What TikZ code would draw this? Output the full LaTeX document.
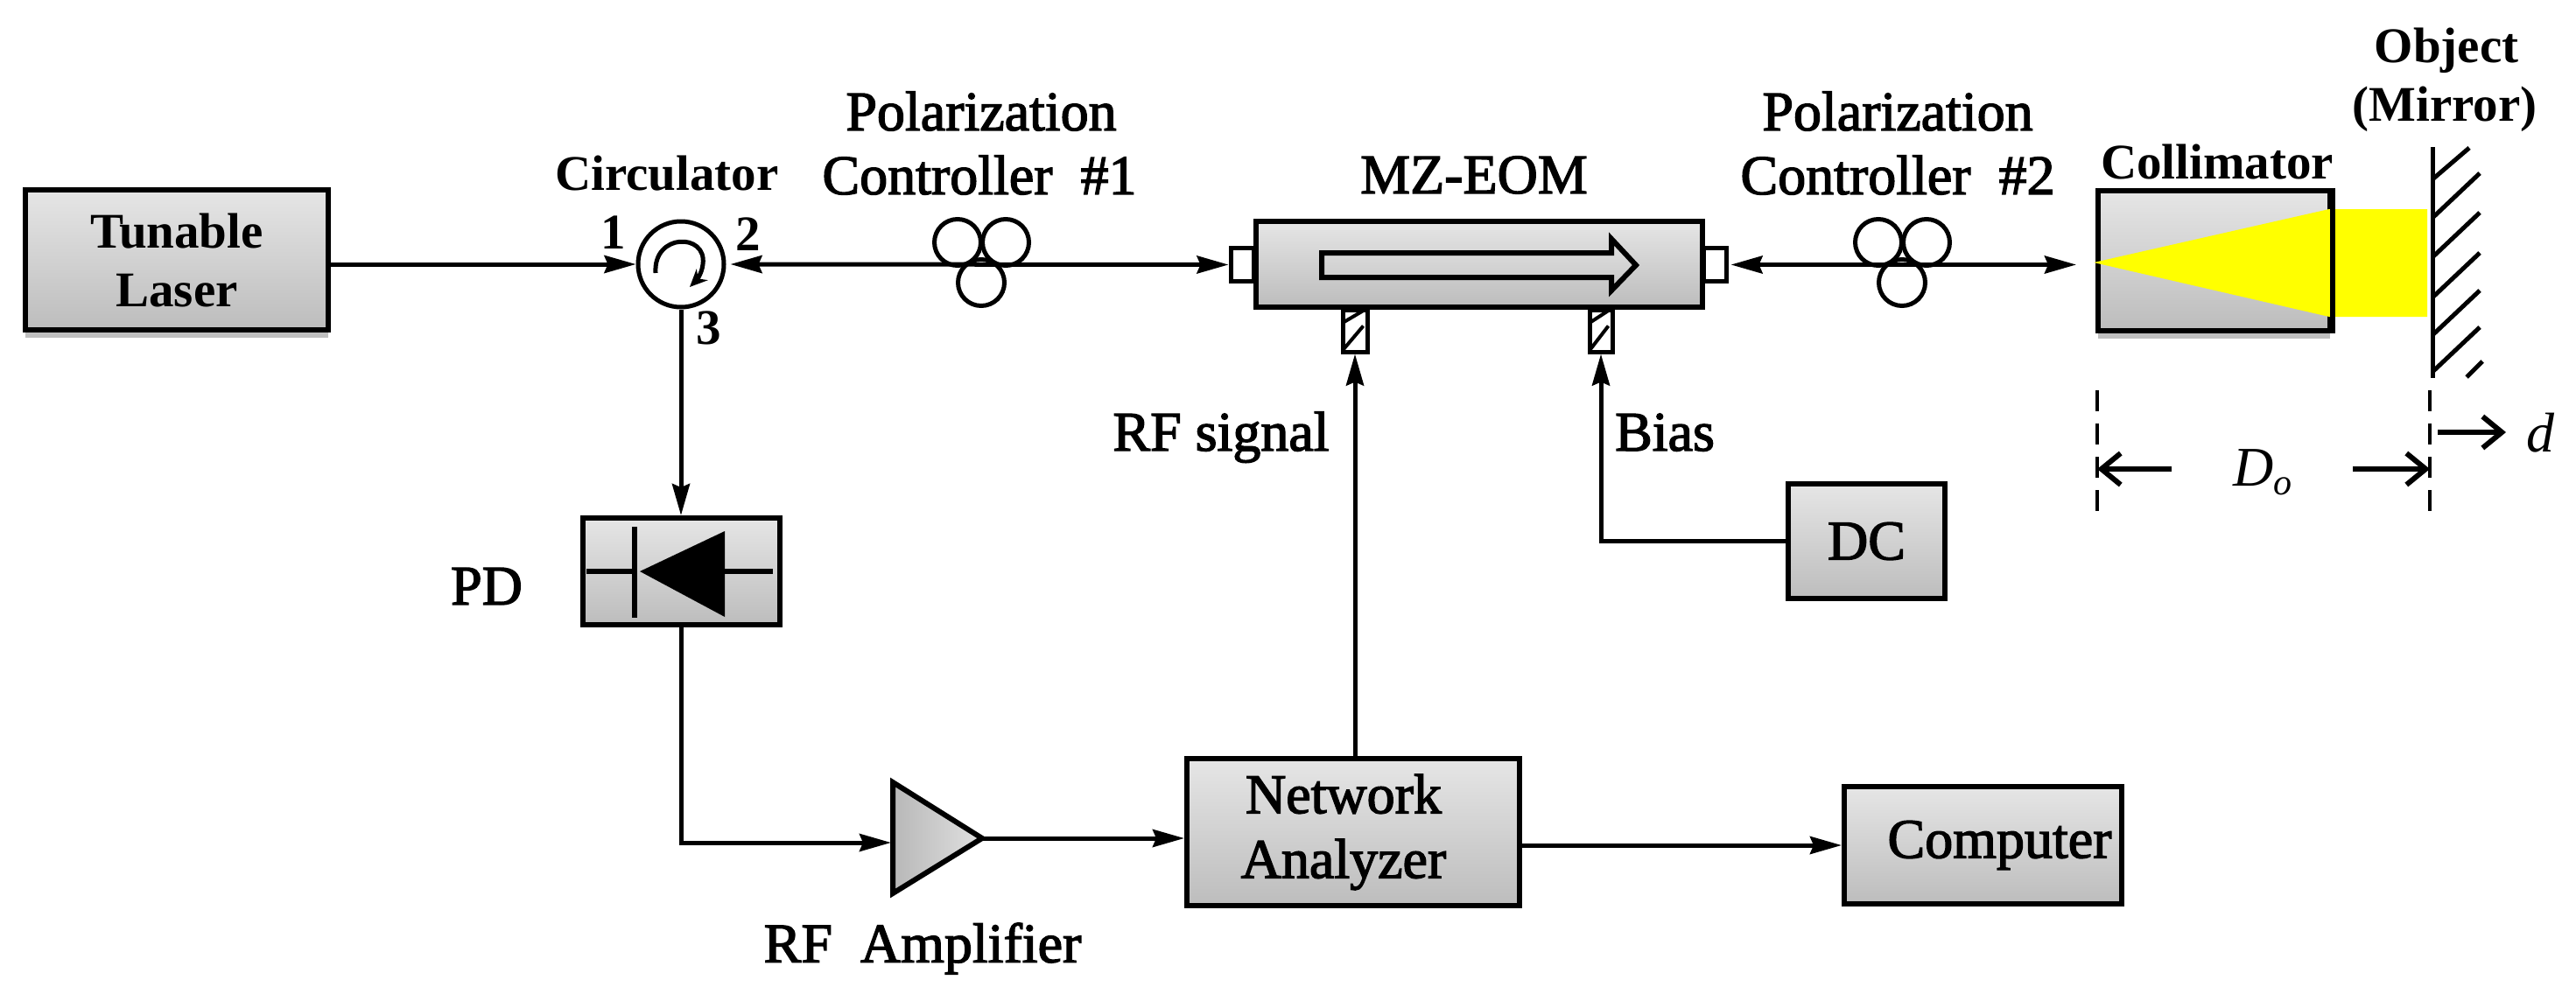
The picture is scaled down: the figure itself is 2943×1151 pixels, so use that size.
\documentclass[tikz,border=0pt]{standalone}
\usepackage{fontspec}
\setmainfont{Liberation Serif}
\newfontfamily\semifont[FakeBold=2.2]{Liberation Serif}
\usetikzlibrary{arrows.meta,shadows,calc}
\definecolor{beam}{RGB}{255,255,0}
\tikzset{
  x=1pt,y=-1pt,
  box/.style={draw=black,line width=6pt,top color=white!90!black,bottom color=black!26,inner sep=0pt,font=\fontsize{64}{72}\selectfont\semifont,align=center},
  shad/.style={drop shadow={shadow xshift=0pt,shadow yshift=-9pt,opacity=.25,fill=black}},
  lbl/.style={inner sep=0pt,font=\fontsize{64}{72}\selectfont\semifont,align=center},
  blbl/.style={inner sep=0pt,font=\fontsize{57}{67}\selectfont\bfseries,align=center},
  wire/.style={line width=5pt},
  arr/.style={line width=5pt,-{Stealth[length=36pt,width=20pt,inset=4pt]}},
  dbl/.style={line width=5pt,{Stealth[length=36pt,width=20pt,inset=4pt]}-{Stealth[length=36pt,width=20pt,inset=4pt]}},
  bar/.style={line width=6pt},
  loop/.style={draw=black,line width=5pt,circle,minimum size=53pt,inner sep=0pt},
  open/.style={line width=6pt,-{Straight Barb[length=22pt,width=36pt,line width=6pt]}},
  stub/.style={draw=black,line width=5pt,fill=white,inner sep=0pt},
  dim/.style={line width=4pt,dash pattern=on 24pt off 14pt},
}
\begin{document}
\begin{tikzpicture}
\useasboundingbox (0,0) rectangle (2943,1151);
% boxes
\node[box,shad,minimum width=346pt,minimum height=160pt,font=\fontsize{57}{67}\selectfont\bfseries] (laser) at (202,297) {Tunable\\Laser};
\node[box,minimum width=225pt,minimum height=122pt] (pd) at (778,653) {};
\node[box,minimum width=380pt,minimum height=168pt] (na) at (1546,951) {\hspace{-22pt}Network\\[2pt]\hspace{-22pt}Analyzer};
\node[box,minimum width=317pt,minimum height=134pt] (computer) at (2265.5,966) {\hspace{38pt}Computer};
\node[box,minimum width=179pt,minimum height=131pt] (dc) at (2132.5,618.5) {DC};
% modulator
\node[stub,minimum width=26pt,minimum height=38pt] (inL) at (1419,302.5) {};
\node[stub,minimum width=26pt,minimum height=38pt] (inR) at (1959,302.5) {};
\node[stub,minimum width=28pt,minimum height=48pt] (rfp) at (1548,378) {};
\node[stub,minimum width=26pt,minimum height=48pt] (bp) at (1829,378) {};
\draw[line width=4pt] (rfp.south west) ++(4,-6) -- ++(22,-26) (rfp.west) ++(4,-10) -- ++(22,-13);
\draw[line width=4pt] (bp.south west) ++(4,-6) -- ++(20,-26) (bp.west) ++(4,-10) -- ++(20,-13);
\node[box,minimum width=510pt,minimum height=98pt] (mz) at (1689.5,301.5) {};
\draw[line width=6pt,top color=white!88!black,bottom color=black!22] (1510,289) -- (1841,289) -- (1841,273) -- (1869,303) -- (1841,332) -- (1841,317) -- (1510,317) -- cycle;
% collimator and beam
\node[box,shad,minimum width=265pt,minimum height=160pt] (coll) at (2529,297.5) {};
\fill[beam] (2392,300) -- (2661,239) -- (2773,239) -- (2773,362) -- (2661,362) -- cycle;
\draw[line width=6pt] (coll.north east) -- (coll.south east);
\coordinate (beamtip) at (2372,302.5);
% mirror
\draw[line width=5pt] (2779,168) -- (2779,432);
\draw[line width=5pt] (2779,205) -- (2821,169);
\foreach \y in {249,294,340,383,425}{\draw[line width=5pt] (2779,\y) -- ++(54,-51);}
\draw[line width=5pt] (2818,431) -- (2836,413);
% circulator
\node[draw=black,line width=5pt,circle,minimum size=98pt,inner sep=0pt] (circ) at (778,302) {};
\draw[line width=5pt,-{Stealth[length=20pt,width=18pt]}] (749,312) .. controls (746,266) and (808,266) .. (803,302) .. controls (802,312) and (796,320) .. (788,328);
% polarization controllers
\node[loop] (a1) at (1094,277) {};
\node[loop] (a2) at (1149,277) {};
\node[loop] (a3) at (1121,323) {};
\node[loop] (b1) at (2146,277) {};
\node[loop] (b2) at (2201,277) {};
\node[loop] (b3) at (2173,323) {};
% connectors
\draw[arr] (laser.east |- circ.west) -- (circ.west);
\draw[dbl] ($(circ.east)+(5,0)$) -- (inL.west);
\draw[dbl] ($(inR.east)+(3,0)$) -- (beamtip);
\draw[arr] (circ.south) -- (pd.north);
\coordinate (ampin) at (1018,963);
\draw[arr] (pd.south) -- (pd.south |- ampin) -- (ampin);
% amplifier
\node[inner sep=0pt,minimum size=0pt] (amptip) at (1122,958) {};
\draw[line width=6pt,left color=black!28,right color=black!12] (1020,894) -- (amptip.center) -- (1020,1021) -- cycle;
\draw[arr] (amptip.center) -- (na.west |- amptip.center);
\draw[arr] (na.north -| rfp.south) -- (rfp.south);
\draw[arr] (na.east |- computer.west) -- (computer.west);
\draw[arr] (dc.west) -- (bp.south |- dc.west) -- (bp.south);
% photodiode
\draw[bar] (725,602) -- (725,706);
\draw[bar] (670,653) -- (725,653);
\draw[bar] (828,653) -- (883,653);
\fill (731,653) -- (828,607) -- (828,705) -- cycle;
% labels
\node[blbl] at (762,198) {Circulator};
\node[blbl] at (701,266) {1};
\node[blbl] at (855,268) {2};
\node[blbl] at (810,375) {3};
\node[lbl] at (1121,127) {Polarization};
\node[lbl] at (1119,200) {Controller\ \ \#1};
\node[lbl] at (1684,200) {MZ-EOM};
\node[lbl] at (2168,127) {Polarization};
\node[lbl] at (2168,200) {Controller\ \ \#2};
\node[blbl] at (2533,185) {Collimator};
\node[blbl] at (2795,58) {Object};
\node[blbl] at (2793,125) {(Mirror)};
\node[lbl,anchor=base] at (1395,515) {RF signal};
\node[lbl,anchor=base] at (1902,515) {Bias};
\node[lbl] at (556,670) {PD};
\node[lbl] at (1054,1084) {RF\ \ Amplifier};
\node[inner sep=0pt,font=\fontsize{64}{72}\selectfont\itshape] at (2585,540) {D\raisebox{-10pt}{\fontsize{42}{42}\selectfont o}};
\node[inner sep=0pt,font=\fontsize{64}{72}\selectfont\itshape] at (2902,495) {d};
% dimension
\coordinate (d1a) at (2396,446); \coordinate (d1b) at (2396,593);
\coordinate (d2a) at (2776,446); \coordinate (d2b) at (2776,593);
\draw[dim] (d1a) -- (d1b);
\draw[dim] (d2a) -- (d2b);
\draw[open] (2481,536) -- (d1a |- 0,536);
\draw[open] (2688,536) -- (d2a |- 0,536);
\draw[open] (2785,494) -- (2863,494);
\end{tikzpicture}
\end{document}
